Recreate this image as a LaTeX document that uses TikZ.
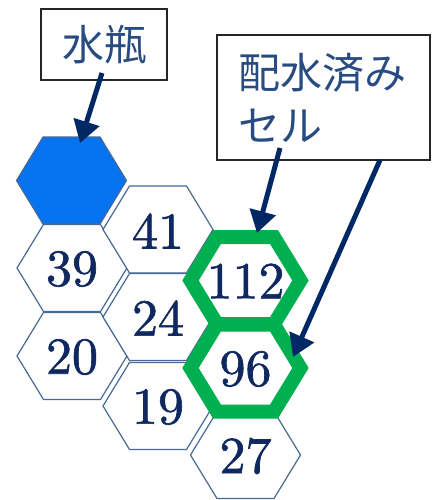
\documentclass[tikz,border=0pt]{standalone}
\usepackage{fontspec}
\newfontfamily\jpfont{Noto Sans CJK JP}
\newfontfamily\numfont{lmroman10-regular.otf}[FakeBold=1.2]
\usetikzlibrary{arrows.meta}
\definecolor{hexline}{RGB}{70,105,150}
\definecolor{waterblue}{RGB}{5,115,240}
\definecolor{donegreen}{RGB}{0,176,80}
\definecolor{numcol}{RGB}{15,40,95}
\definecolor{labcol}{RGB}{40,75,130}
\definecolor{arrcol}{RGB}{0,40,100}
\begin{document}
\begin{tikzpicture}[x=1pt,y=-1pt,
 hexcell/.pic={\path[pic actions] (-55,0) -- (-28.5,-43.5) -- (28.5,-43.5) -- (55,0) -- (28.5,43.5) -- (-28.5,43.5) -- cycle;},
 plainhex/.style={draw=hexline,line width=1.2pt,fill=white},
 bluehex/.style={draw=hexline,line width=1.2pt,fill=waterblue},
 greenhex/.style={draw=donegreen,line width=14pt,fill=white,line join=miter},
 num/.style={font=\numfont\fontsize{52}{52}\selectfont,text=numcol,inner sep=0pt},
 labelbox/.style={draw=black!85,line width=1.3pt,fill=white,text=labcol,font=\jpfont\fontsize{42}{53}\selectfont},
 pointer/.style={draw=arrcol,line width=5pt,-{Triangle[width=26pt,length=22pt]}},
]
\useasboundingbox (0,0) rectangle (433,500);

% hexagon cells
\pic[bluehex] at (71.5,180.5) {hexcell};
\pic[plainhex] at (72,268) {hexcell};
\pic[plainhex] at (72,356) {hexcell};
\pic[plainhex] at (158,229.5) {hexcell};
\pic[plainhex] at (158,317) {hexcell};
\pic[plainhex] at (158,406) {hexcell};
\pic[plainhex] at (245.5,455) {hexcell};
\pic[greenhex] at (245.5,280.5) {hexcell};
\pic[greenhex] at (245.5,368) {hexcell};

% numbers
\node[num] (c39) at (72,269) {39};
\node[num] (c20) at (72,357) {20};
\node[num] (c41) at (158,231) {41};
\node[num] (c24) at (158,318) {24};
\node[num] (c19) at (158,407) {19};
\node[num] (c112) at (245.5,281) {112};
\node[num] (c96) at (245.5,369) {96};
\node[num] (c27) at (245.5,456) {27};

% labels
\node[labelbox,minimum width=126pt,minimum height=71pt,inner sep=0pt] (bottle) at (104,44.5) {水瓶};
\node[labelbox,text width=170pt,inner xsep=21.5pt,inner ysep=0pt,minimum height=125pt,align=left] (done) at (323.5,97.5) {配水済み\\セル};

% arrows
\coordinate (p1s) at (102,73);
\coordinate (p1e) at (80,143);
\coordinate (p2s) at (280,148);
\coordinate (p2e) at (257,233);
\coordinate (p3s) at (380,160);
\coordinate (p3e) at (293,357);
\draw[pointer] (p1s) -- (p1e);
\draw[pointer] (p2s) -- (p2e);
\draw[pointer] (p3s) -- (p3e);
\end{tikzpicture}
\end{document}
